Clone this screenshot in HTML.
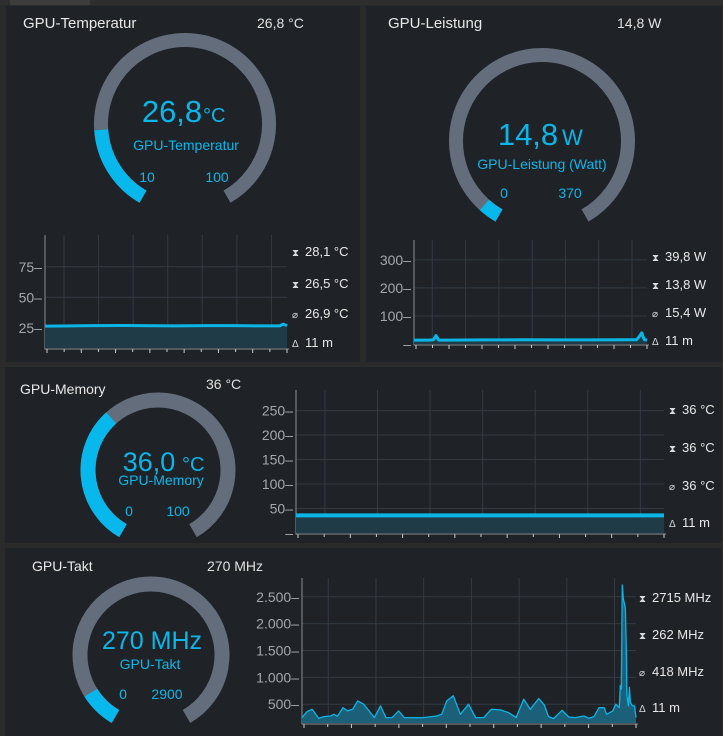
<!DOCTYPE html>
<html><head><meta charset="utf-8"><style>
html,body{margin:0;padding:0;background:#2a2a2a;width:723px;height:736px;overflow:hidden;font-family:"Liberation Sans",sans-serif}
svg{display:block}
</style></head><body>
<svg id="s" width="723" height="736" viewBox="0 0 723 736">
<rect x="0" y="0" width="723" height="736" fill="#2a2a2a"/>
<rect x="0" y="0" width="723" height="5" fill="#2e2e2e"/>
<rect x="10" y="0" width="80" height="5" fill="#3c3c3c"/>
<rect x="6" y="6" width="354" height="356" fill="#1f2327"/>
<rect x="366" y="6" width="356" height="356" fill="#1f2327"/>
<rect x="5" y="367" width="717" height="176" fill="#1f2327"/>
<rect x="5" y="548" width="717" height="188" fill="#1f2327"/>
<g id="g"></g>
</svg>
<script>
// ---- data ----
const tempTimes=[0,50,100,150,200,250,300,350,400,450,500,550,600,640,650,660];
const tempValues=[26.4,26.5,26.7,26.8,26.9,26.8,26.7,26.6,26.7,26.8,26.8,26.7,26.6,26.6,28.1,26.8];
const tempTicks=[25,50,75];
const tempStats=["28,1 °C","26,5 °C","26,9 °C","11 m"];

const powerTimes=[0,40,55,62,70,90,200,300,400,500,600,630,638,645,652,660];
const powerValues=[14,14,15,30,14,14,14.5,15,14.5,14.5,15,15,26,39.8,16,14];
const powerTicks=[100,200,300];
const powerStats=["39,8 W","13,8 W","15,4 W","11 m"];

const memTimes=[0,660];
const memValues=[36,36];
const memTicks=[50,100,150,200,250];
const memStats=["36 °C","36 °C","36 °C","11 m"];

const clockTimes=[0,10,20,33,43,56,63,70,81,90,100,110,122,143,155,166,178,191,202,240,266,276,286,299,313,329,343,359,374,392,408,423,438,451,468,479,487,497,514,527,540,557,567,577,587,597,602,614,620,627,629,631,633,635,639,641,642,645,647,649,651,653,655,657,660];
const clockValues=[250,362,406,237,269,281,312,275,437,375,406,562,500,250,469,250,250,375,250,250,281,312,562,656,312,500,250,250,406,394,344,250,594,406,606,481,269,231,387,262,250,281,237,269,437,437,312,375,500,437,844,781,2719,2469,2281,1406,656,469,812,531,500,469,469,469,250];
const clockTicks=[500,1000,1500,2000,2500];
const clockTickLabels=["500","1.000","1.500","2.000","2.500"];
const clockStats=["2715 MHz","262 MHz","418 MHz","11 m"];

const gaugeValues=[26.8,14.8,36.0,270];
const gaugeMins=[10,0,0,0];
const gaugeMaxs=[100,370,100,2900];

// ---- helpers ----
const NS="http://www.w3.org/2000/svg";
const G=document.getElementById('g');
function mk(tag,attrs,parent){const e=document.createElementNS(NS,tag);for(const k in attrs)e.setAttribute(k,attrs[k]);(parent||G).appendChild(e);return e;}
function txt(x,y,s,size,fill,anchor,parent){const t=mk('text',{x:x,y:y,'font-size':size,fill:fill,'text-anchor':anchor||'start','font-family':'Liberation Sans, sans-serif'},parent);t.textContent=s;return t;}
function pt(cx,cy,r,a){const rad=a*Math.PI/180;return [cx+r*Math.cos(rad),cy+r*Math.sin(rad)];}
function arc(cx,cy,r,a0,a1){const p0=pt(cx,cy,r,a0),p1=pt(cx,cy,r,a1);const large=(a1-a0)>180?1:0;return `M${p0[0]} ${p0[1]} A${r} ${r} 0 ${large} 1 ${p1[0]} ${p1[1]}`;}

function gauge(i,cx,cy,r,w,name){
  const g=mk('g',{});
  
  
  const bg=mk('path',{d:arc(cx,cy,r,120,420),stroke:'#636d7c','stroke-width':w,fill:'none'},g);
  
  
  const frac=(gaugeValues[i]-gaugeMins[i])/(gaugeMaxs[i]-gaugeMins[i]);
  const fg=mk('path',{d:arc(cx,cy,r,120,120+300*Math.max(0.02,frac)),stroke:'#08b8ec','stroke-width':w,fill:'none'},g);
  
  
}

function chart(o){
  const g=mk('g',{});
  
  
  const sx=t=>o.x0+(t-o.tMin)/(o.tMax-o.tMin)*(o.x1-o.x0);
  const sy=v=>o.y1-(v-o.vMin)/(o.vMax-o.vMin)*(o.y1-o.y0);
  for(let k=0;k<o.vg;k++){const x=o.x0+(k+0.55)*(o.x1-o.x0)/o.vg;
    const l=mk('line',{x1:x,x2:x,y1:o.y0,y2:o.y1,stroke:'#333a42','stroke-width':1},g);
    
    }
  o.ticks.forEach((v,k)=>{const y=sy(v);
    const l=mk('line',{x1:o.x0,x2:o.x1,y1:y,y2:y,stroke:'#333a42','stroke-width':1},g);
    
    
    const t=txt(o.x0-3,y+5,(o.labels?o.labels[k]:String(v))+'–',o.fs||14,'#a3a8ad','end',g);
    
    });
  if(o.zeroDash){const t=txt(o.x0-3,sy(0)+5,'–',14,'#a3a8ad','end',g);
    
    }
  const ax=mk('path',{d:`M${o.x0} ${o.y0} V${o.y1+1} H${o.x1+2}`,stroke:'#8a8f95','stroke-width':1,fill:'none'},g);
  
  
  for(let k=0;k<=o.vg*2;k++){const x=o.x0+2+k*(o.x1-o.x0-2)/(o.vg*2);
    const l=mk('line',{x1:x,x2:x,y1:o.y1+1,y2:o.y1+(k%2?4:5),stroke:'#c8ccd0','stroke-width':1},g);
    
    }
  let d='';o.times.forEach((t,k)=>{d+=(k?'L':'M')+sx(t).toFixed(1)+' '+sy(o.values[k]).toFixed(1)+' ';});
  const area=mk('path',{d:d+`L${sx(o.times[o.times.length-1])} ${o.y1} L${sx(o.times[0])} ${o.y1} Z`,fill:o.areaFill,stroke:'none'},g);
  
  
  const line=mk('path',{d:d,fill:'none',stroke:'#0bb5e6','stroke-width':o.lw,'stroke-linejoin':'round'},g);
  
  
  o.stats.forEach((s,k)=>{const y=o.sy[k];
    const ic=txt(o.sx,y,['⧗','⧗','⌀','Δ'][k],10,'#d8dadc','start',g);
    
    
    const t=txt(o.sx+13,y,s,13,'#e8e8e8','start',g);
    
    });
}

function label(x,y,s,size,fill,anchor,name){const t=txt(x,y,s,size,fill,anchor);return t;}

const C='#0bb7ea';
label(23,28,'GPU-Temperatur',15,'#e8e8e8','start','temperature-title');
label(257,28,'26,8 °C',14,'#e0e0e0','start','temperature-header-value');
gauge(0,185,124,84,14,'temperature-gauge');
label(172,122,'26,8',31,C,'middle','temperature-gauge-value');
label(203,122,'°C',20,C,'start','temperature-gauge-unit');
label(186,150,'GPU-Temperatur',14,C,'middle','temperature-gauge-label');
label(147,182,'10',14,C,'middle','temperature-gauge-min');
label(217,182,'100',14,C,'middle','temperature-gauge-max');
chart({name:'temperature-chart',x0:45,x1:287,y0:235,y1:348,vMin:8.5,vMax:101,tMin:0,tMax:660,ticks:tempTicks,times:tempTimes,values:tempValues,vg:7,lw:3,areaFill:'#1f3b47',stats:tempStats,sx:292,sy:[256,288,318,347]});

label(388,28,'GPU-Leistung',15,'#e8e8e8','start','power-title');
label(617,28,'14,8 W',14,'#e0e0e0','start','power-header-value');
gauge(1,542,141,86,14,'power-gauge');
label(528,145,'14,8',31,C,'middle','power-gauge-value');
label(562,145,'W',22,C,'start','power-gauge-unit');
label(542,169,'GPU-Leistung (Watt)',14,C,'middle','power-gauge-label');
label(504,198,'0',14,C,'middle','power-gauge-min');
label(570,198,'370',14,C,'middle','power-gauge-max');
chart({name:'power-chart',x0:414,x1:647,y0:240,y1:344,vMin:0,vMax:371,tMin:0,tMax:660,ticks:powerTicks,times:powerTimes,values:powerValues,vg:7,lw:3,areaFill:'#1f3b47',zeroDash:true,stats:powerStats,sx:652,sy:[261,289,317,345]});

label(20,394,'GPU-Memory',14,'#e8e8e8','start','memory-title');
label(206,389,'36 °C',14,'#e0e0e0','start','memory-header-value');
gauge(2,158,470,70,15,'memory-gauge');
label(149,471,'36,0',27,C,'middle','memory-gauge-value');
label(182,471,'°C',20,C,'start','memory-gauge-unit');
label(161,485,'GPU-Memory',14,C,'middle','memory-gauge-label');
label(129,516,'0',14,C,'middle','memory-gauge-min');
label(178,516,'100',14,C,'middle','memory-gauge-max');
chart({name:'memory-chart',x0:296,x1:664,y0:390,y1:533,vMin:0,vMax:292,tMin:0,tMax:660,ticks:memTicks,times:memTimes,values:memValues,vg:7,lw:4,areaFill:'#1f3b47',zeroDash:true,stats:memStats,sx:669,sy:[414,452,490,527]});

label(32,571,'GPU-Takt',14,'#e8e8e8','start','clock-title');
label(207,571,'270 MHz',14,'#e0e0e0','start','clock-header-value');
gauge(3,151,655,71,15,'clock-gauge');
label(152,649,'270 MHz',25,C,'middle','clock-gauge-value');
label(150,669,'GPU-Takt',14,C,'middle','clock-gauge-label');
label(123,699,'0',14,C,'middle','clock-gauge-min');
label(167,699,'2900',14,C,'middle','clock-gauge-max');
chart({name:'clock-chart',x0:302,x1:636,y0:578,y1:723,vMin:150,vMax:2850,tMin:0,tMax:660,ticks:clockTicks,labels:clockTickLabels,times:clockTimes,values:clockValues,vg:7,lw:1.3,areaFill:'#1b5f78',stats:clockStats,sx:639,sy:[602,639,676,712]});
</script>
</body></html>
